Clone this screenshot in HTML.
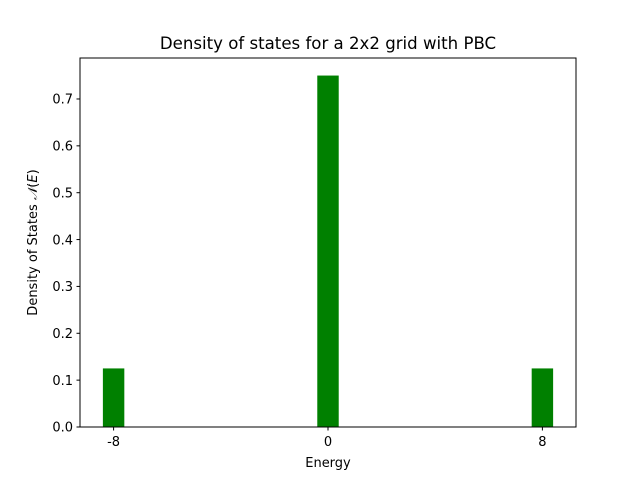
<!DOCTYPE html>
<html><head><meta charset="utf-8"><style>
body{margin:0;background:#fff;}
svg text{font-family:"DejaVu Sans","Liberation Sans",sans-serif;fill:#000;}
</style></head><body>
<svg id="chart" width="640" height="480">
<rect width="640" height="480" fill="#fff"/>
<text x="328" y="49" font-size="16.6" text-anchor="middle">Density of states for a 2x2 grid with PBC</text>
<g id="bars"></g>
<rect x="80" y="58" width="496" height="369" fill="none" stroke="#000" stroke-width="1"/>
<g id="xticks"></g><g id="yticks"></g>
<text x="328" y="467" font-size="13" text-anchor="middle">Energy</text>
<text transform="translate(37,242.5) rotate(-90)" font-size="13" text-anchor="middle">Density of States  <tspan font-style="italic" font-family="Liberation Serif, serif">𝒩</tspan>(<tspan font-style="italic">E</tspan>)</text>
</svg>
<script>
const energies=[-8,0,8];
const densities=[0.125,0.75,0.125];
const xTickValues=[-8,0,8];
const xTickLabels=["-8","0","8"];
const yTickValues=[0,0.1,0.2,0.3,0.4,0.5,0.6,0.7];
const yTickLabels=["0.0","0.1","0.2","0.3","0.4","0.5","0.6","0.7"];
const barWidth=0.8;
const NS="http://www.w3.org/2000/svg";
const xScale=v=>328+v*26.8;
const yScale=v=>427-v*468.6;
function mk(t,a,p){const e=document.createElementNS(NS,t);for(const k in a)e.setAttribute(k,a[k]);p.appendChild(e);return e;}
const bars=document.getElementById('bars');
energies.forEach((e,i)=>{
 const b=mk('rect',{x:xScale(e-barWidth/2),y:yScale(densities[i]),width:xScale(e+barWidth/2)-xScale(e-barWidth/2),height:yScale(0)-yScale(densities[i]),fill:'#008000'},bars);
 
 
});
const xt=document.getElementById('xticks');
xTickValues.forEach((v,i)=>{
 const x=xScale(v);
 const l=mk('line',{x1:x,x2:x,y1:427,y2:430.5,stroke:'#000'},xt);
 
 
 const t=mk('text',{x:x,y:446,'font-size':13,'text-anchor':'middle'},xt);
 t.textContent=xTickLabels[i];
 
 
});
const yt=document.getElementById('yticks');
yTickValues.forEach((v,i)=>{
 const y=yScale(v);
 const l=mk('line',{x1:76.5,x2:80,y1:y,y2:y,stroke:'#000'},yt);
 
 
 const t=mk('text',{x:73,y:y+4.7,'font-size':13,'text-anchor':'end'},yt);
 t.textContent=yTickLabels[i];
 
 
});
</script>
</body></html>
